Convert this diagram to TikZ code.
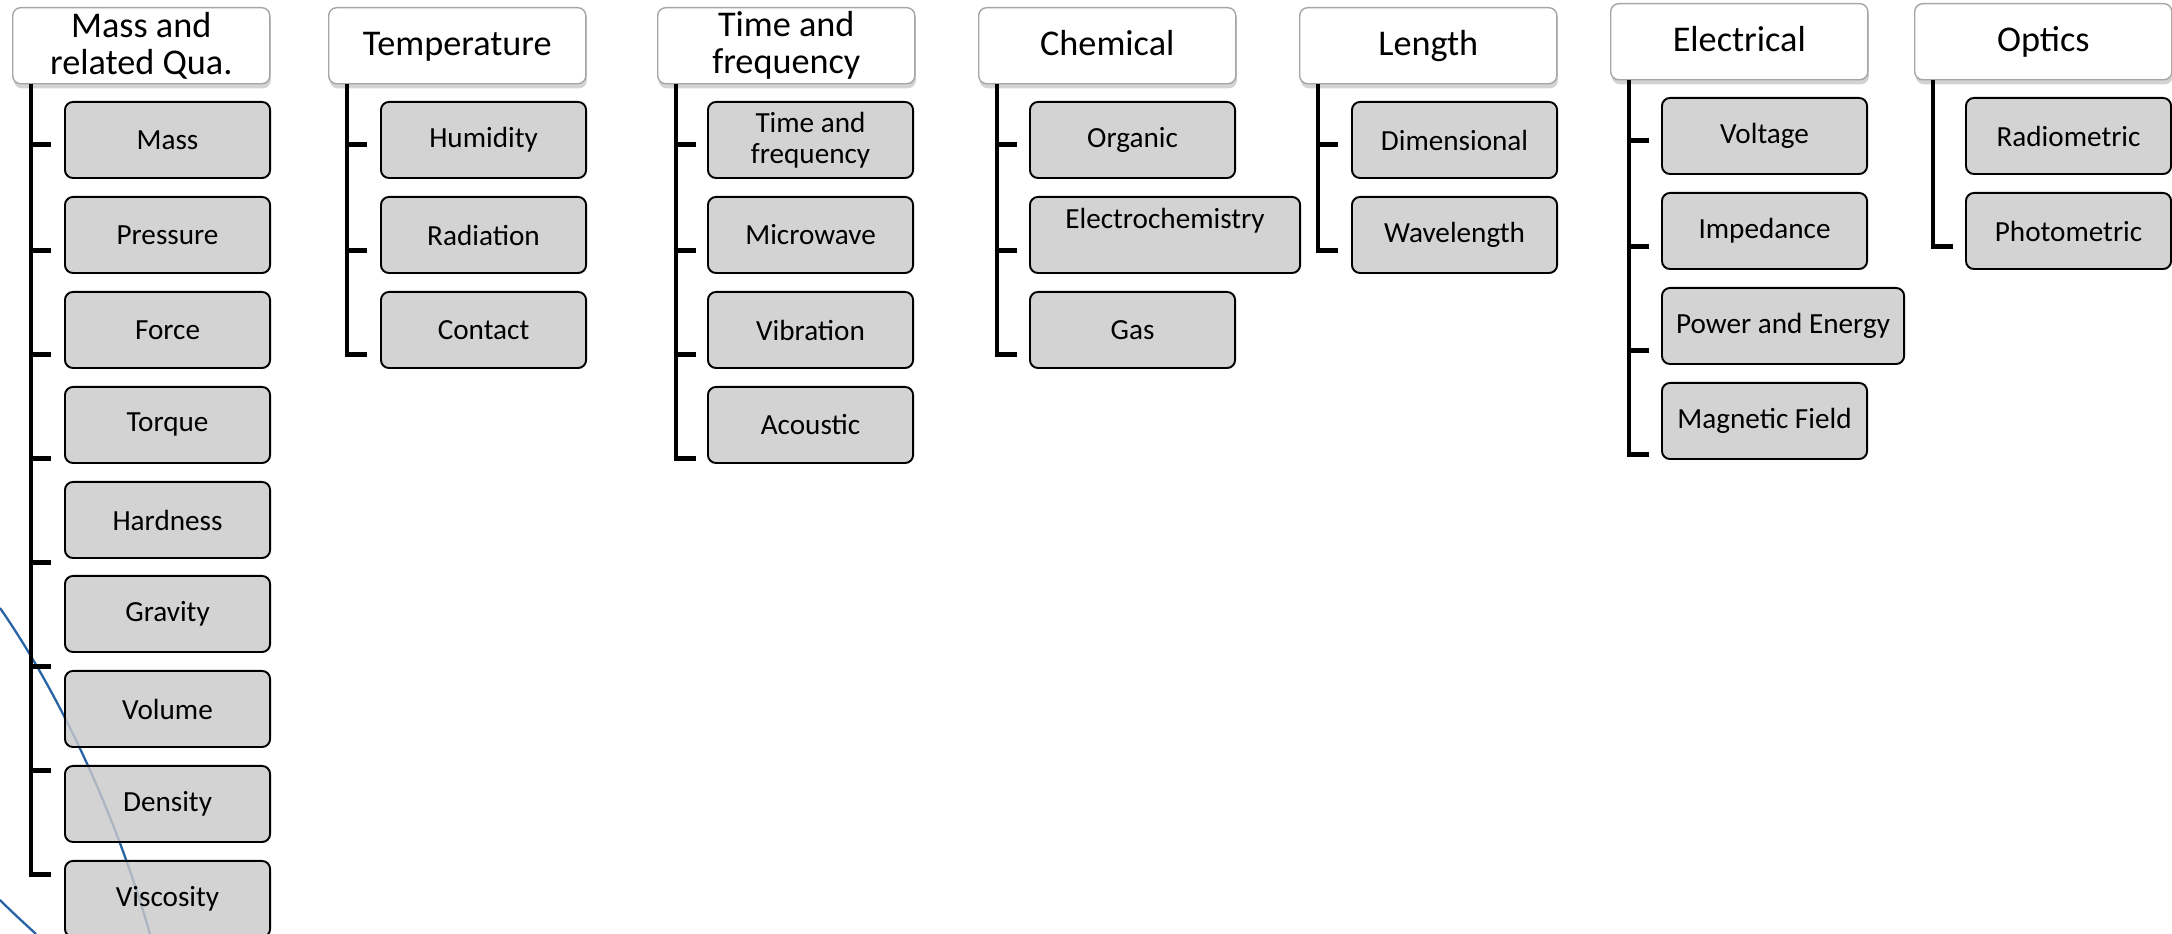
\documentclass[tikz,border=0pt]{standalone}
\usepackage{fontspec}
\setmainfont{Carlito}
\usetikzlibrary{shadows,calc}
\definecolor{leafgray}{RGB}{201,201,201}
\definecolor{swoosh}{RGB}{40,100,165}
\newcommand\hdrfont{\fontsize{10.3}{10.5}\selectfont}
\newcommand\leaffont{\fontsize{8.3}{8.8}\selectfont}
\begin{document}
\begin{tikzpicture}[x=0.01cm,y=-0.01cm,
 hdr/.style={anchor=north west, draw=black!35, line width=0.4pt, fill=white, rounded corners=0.08cm,
   minimum width=2.57cm, minimum height=0.76cm, inner sep=0pt, align=center, font=\hdrfont,
   drop shadow={shadow xshift=0.3pt, shadow yshift=-1.3pt, opacity=0.35}},
 hone/.style={hdr, text height=0.3cm, text depth=0.1cm},
 leaf/.style={anchor=north west, draw=black, line width=0.55pt, fill=leafgray, fill opacity=0.82,
   text opacity=1, rounded corners=0.08cm, minimum width=2.05cm, minimum height=0.76cm,
   inner sep=0pt, align=center, font=\leaffont},
 trunk/.style={draw=black, line width=1.3pt, line join=miter},
 curve/.style={draw=swoosh, line width=0.65pt}]
\useasboundingbox (0,0) rectangle (2172,934);
\begin{scope}
\clip (0,0) rectangle (2172,934);
\draw[curve] (0,608) .. controls (50,680) and (110,795) .. (150,934);
\draw[curve] (0,900) .. controls (12,912) and (24,923) .. (36,934);
\end{scope}

% headers
\node[hdr] (hM) at (12,7) {Mass and\\related Qua.};
\node[hone] (hT) at (328,7) {Temperature};
\node[hdr] (hF) at (657,7) {Time and\\frequency};
\node[hone] (hC) at (978,7) {Chemical};
\node[hone] (hL) at (1299,7) {Length};
\node[hone] (hE) at (1610,3) {Electrical};
\node[hone] (hO) at (1914,3) {Optics};

% trunks
\foreach \h in {hM,hT,hF,hC,hL,hE,hO}{
  \coordinate (t\h) at ($(\h.south west)+(19,0)$);
}
\draw[trunk] (thM) -- ++(0,790) -- ++(20,0);
\foreach \d in {60,166,270,374,478,582,686} \draw[trunk] (thM) ++(0,\d) -- ++(20,0);
\draw[trunk] (thT) -- ++(0,270) -- ++(20,0);
\foreach \d in {60,166} \draw[trunk] (thT) ++(0,\d) -- ++(20,0);
\draw[trunk] (thF) -- ++(0,374) -- ++(20,0);
\foreach \d in {60,166,270} \draw[trunk] (thF) ++(0,\d) -- ++(20,0);
\draw[trunk] (thC) -- ++(0,270) -- ++(20,0);
\foreach \d in {60,166} \draw[trunk] (thC) ++(0,\d) -- ++(20,0);
\draw[trunk] (thL) -- ++(0,166) -- ++(20,0);
\draw[trunk] (thL) ++(0,60) -- ++(20,0);
\draw[trunk] (thE) -- ++(0,374) -- ++(20,0);
\foreach \d in {60,166,270} \draw[trunk] (thE) ++(0,\d) -- ++(20,0);
\draw[trunk] (thO) -- ++(0,166) -- ++(20,0);

% Mass column
\node[leaf] (m1) at (64,101) {Mass};
\node[leaf] (m2) at (64,196) {Pressure};
\node[leaf] (m3) at (64,291) {Force};
\node[leaf] (m4) at (64,386) {Torque};
\node[leaf] (m5) at (64,481) {Hardness};
\node[leaf] (m6) at (64,575) {Gravity};
\node[leaf] (m7) at (64,670) {Volume};
\node[leaf] (m8) at (64,765) {Density};
\node[leaf] (m9) at (64,860) {Viscosity};
% Temperature
\node[leaf] (t1) at (380,101) {Humidity};
\node[leaf] (t2) at (380,196) {Radiation};
\node[leaf] (t3) at (380,291) {Contact};
% Time
\node[leaf] (f1) at (707,101) {Time and\\frequency};
\node[leaf] (f2) at (707,196) {Microwave};
\node[leaf] (f3) at (707,291) {Vibration};
\node[leaf] (f4) at (707,386) {Acoustic};
% Chemical
\node[leaf] (c1) at (1029,101) {Organic};
\node[leaf, minimum width=2.7cm, text height=0.22cm, text depth=0.354cm] (c2) at (1029,196) {Electrochemistry};
\node[leaf] (c3) at (1029,291) {Gas};
% Length
\node[leaf] (l1) at (1351,101) {Dimensional};
\node[leaf] (l2) at (1351,196) {Wavelength};
% Electrical
\node[leaf] (e1) at (1661,97) {Voltage};
\node[leaf] (e2) at (1661,192) {Impedance};
\node[leaf, minimum width=2.42cm] (e3) at (1661,287) {Power and Energy};
\node[leaf] (e4) at (1661,382) {Magnetic Field};
% Optics
\node[leaf] (o1) at (1965,97) {Radiometric};
\node[leaf] (o2) at (1965,192) {Photometric};
\end{tikzpicture}
\end{document}
